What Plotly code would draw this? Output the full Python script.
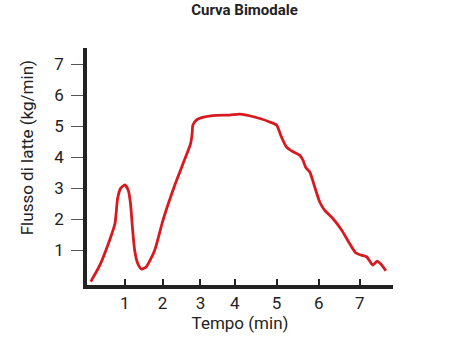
import plotly.graph_objects as go

# Data
tempo = [0.10, 0.34, 0.60, 0.74, 0.81, 0.89, 1.00, 1.09, 1.15, 1.20, 1.26, 1.34, 1.44, 1.57,
         1.79, 2.01, 2.32, 2.54, 2.74, 2.78, 2.80, 2.89, 3.11, 3.42, 3.77, 4.02, 4.22, 4.57,
         4.83, 5.01, 5.14, 5.27, 5.45, 5.62, 5.71, 5.78, 5.89, 6.02, 6.15, 6.28, 6.50, 6.73,
         6.94, 7.10, 7.25, 7.39, 7.47, 7.56, 7.67, 7.78, 7.90]
flusso = [0.00, 0.53, 1.34, 1.87, 2.68, 3.00, 3.11, 2.94, 2.52, 1.76, 1.01, 0.59, 0.40, 0.48,
          1.01, 1.98, 3.10, 3.80, 4.45, 4.77, 5.04, 5.20, 5.30, 5.35, 5.36, 5.39, 5.36, 5.25,
          5.14, 5.04, 4.66, 4.34, 4.18, 4.07, 3.91, 3.68, 3.53, 3.05, 2.57, 2.30, 2.03, 1.66,
          1.23, 0.93, 0.85, 0.80, 0.67, 0.53, 0.66, 0.55, 0.35]

x_tick_vals = [1, 2, 3, 3.91, 5.01, 6.13, 7.21]
x_tick_text = ["1", "2", "3", "4", "5", "6", "7"]
y_tick_vals = [1, 2, 3, 4, 5, 6, 7]
y_tick_text = ["1", "2", "3", "4", "5", "6", "7"]

FONT = "Roboto, Arial, sans-serif"
TXT = "#222222"

fig = go.Figure()
fig.add_trace(go.Scatter(
    x=tempo, y=flusso, mode="lines",
    line=dict(color="#d71a1f", width=2.8, shape="spline", smoothing=0.6),
    hoverinfo="skip", showlegend=False,
))

fig.update_layout(
    width=474, height=342,
    margin=dict(l=87, r=81, t=48, b=57, pad=0),
    paper_bgcolor="white", plot_bgcolor="white",
    font=dict(family=FONT, size=17, color=TXT),
    title=dict(text="<b>Curva Bimodale</b>", font=dict(family=FONT, size=15, color=TXT),
               x=0.516, xref="container", xanchor="center",
               y=0.972, yref="container", yanchor="middle"),
    xaxis=dict(range=[0, 8.09], showgrid=False, zeroline=False,
               showline=True, linewidth=3.5, linecolor=TXT,
               ticks="inside", ticklen=6, tickwidth=1.5, tickcolor=TXT,
               tickvals=x_tick_vals, ticktext=x_tick_text,
               tickfont=dict(family=FONT, size=17, color=TXT),
               title=dict(text="Tempo (min)", font=dict(family=FONT, size=17, color=TXT), standoff=4)),
    yaxis=dict(range=[-0.11, 7.52], showgrid=False, zeroline=False,
               showline=True, linewidth=3.5, linecolor=TXT,
               ticks="outside", ticklen=12, tickwidth=1, tickcolor="#555555",
               tickvals=y_tick_vals, ticktext=y_tick_text,
               tickfont=dict(family=FONT, size=17, color=TXT),
               ticklabelstandoff=4),
    annotations=[dict(text="Flusso di latte (kg/min)", textangle=-90,
                      xref="paper", yref="paper", x=-0.196, y=0.577,
                      xanchor="center", yanchor="middle", showarrow=False,
                      font=dict(family=FONT, size=17, color=TXT))],
)

fig.write_html("out.html")
